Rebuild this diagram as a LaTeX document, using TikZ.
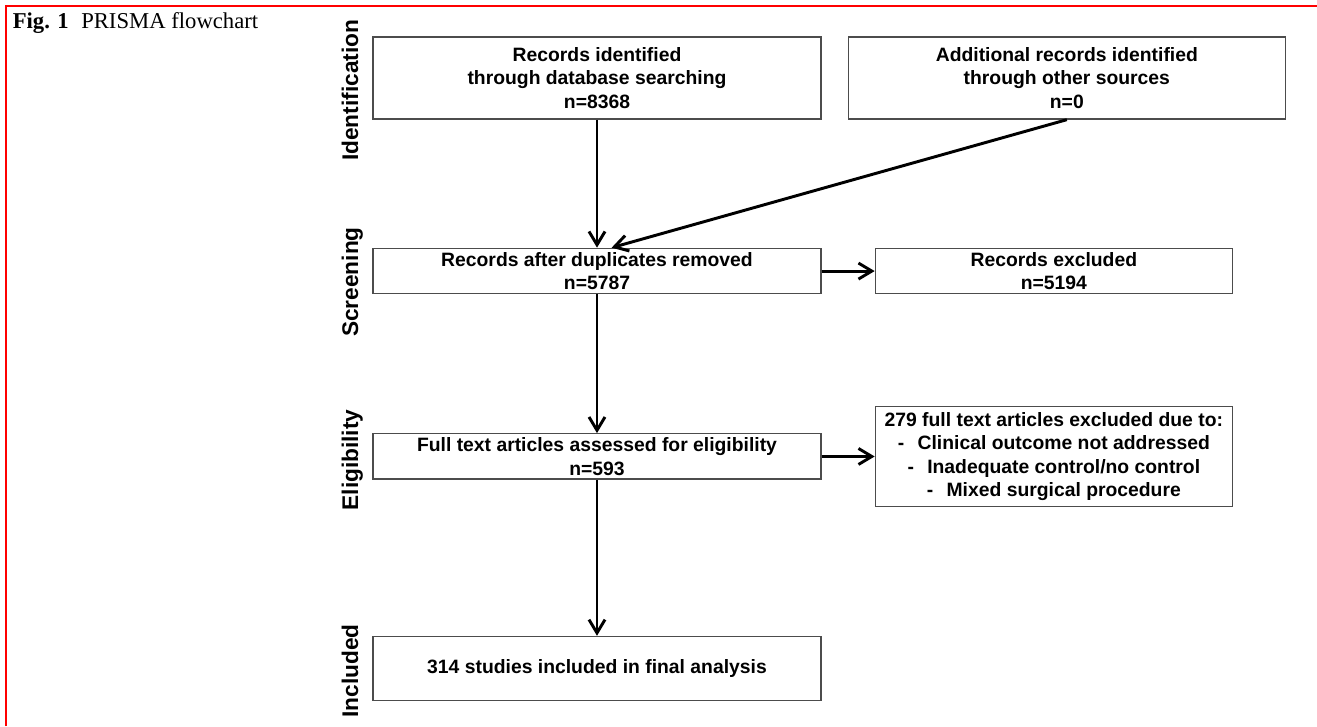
\documentclass[tikz,border=0pt]{standalone}
\usepackage{fontspec}
\setmainfont{Liberation Serif}
\setsansfont{Liberation Sans}
\usetikzlibrary{positioning,arrows.meta}

\begin{document}
\begin{tikzpicture}[
    x=0.75pt, y=-0.75pt,
    box/.style={rectangle, draw=black!70, line width=1pt, align=center, inner sep=0pt, font=\sffamily\bfseries\fontsize{14.5}{17.5}\selectfont},
    stage/.style={rotate=90, anchor=base, inner sep=0pt, font=\sffamily\bfseries\fontsize{17}{20}\selectfont},
    arrow/.style={-{Straight Barb[length=10pt, width=12pt]}, line width=2.2pt}
]
\useasboundingbox (0,0) rectangle (1317,726);

% frame and caption
\draw[red, line width=1.5pt] (5.5,726) |- (1317,5.5);
\node[anchor=base west, inner sep=0pt, font=\fontsize{17}{20}\selectfont] (caption) at (12.5,28.3) {\textbf{Fig. 1}\hspace{0.55em}PRISMA flowchart};

% stages
\node[stage] (ident) at (358,90.3) {Identification};
\node[stage] (screen) at (358,282) {Screening};
\node[stage] (elig) at (358,460) {Eligibility};
\node[stage] (incl) at (358,671) {Included};

% boxes
\node[box, minimum width=336pt, minimum height=61.5pt] (db) at (597,78) {Records identified\\through database searching\\n=8368};
\node[box, minimum width=327.75pt, minimum height=61.5pt, right=19.5pt of db] (other) {Additional records identified\\through other sources\\n=0};
\node[box, minimum width=336pt, minimum height=34.1pt, below=96pt of db] (dup) {Records after duplicates removed\\n=5787};
\node[box, minimum width=267.75pt, minimum height=33.4pt, right=39.75pt of dup] (excl) {Records excluded\\n=5194};
\node[box, minimum width=336pt, minimum height=34pt, below=104pt of dup] (full) {Full text articles assessed for eligibility\\n=593};
\node[box, minimum width=267.75pt, minimum height=75.3pt, right=39.75pt of full] (fullexcl) {279 full text articles excluded due to:\\-\hspace{10pt}Clinical outcome not addressed\\-\hspace{10pt}Inadequate control/no control\\-\hspace{10pt}Mixed surgical procedure};
\node[box, minimum width=336pt, minimum height=47.8pt, below=117pt of full] (final) {314 studies included in final analysis};

% arrows
\draw[arrow] (db) -- (dup);
\draw[arrow] (other.south) -- ([xshift=11pt]dup.north);
\draw[arrow] (dup) -- (excl);
\draw[arrow] (dup) -- (full);
\draw[arrow] (full) -- (fullexcl);
\draw[arrow] (full) -- (final);

\end{tikzpicture}
\end{document}
